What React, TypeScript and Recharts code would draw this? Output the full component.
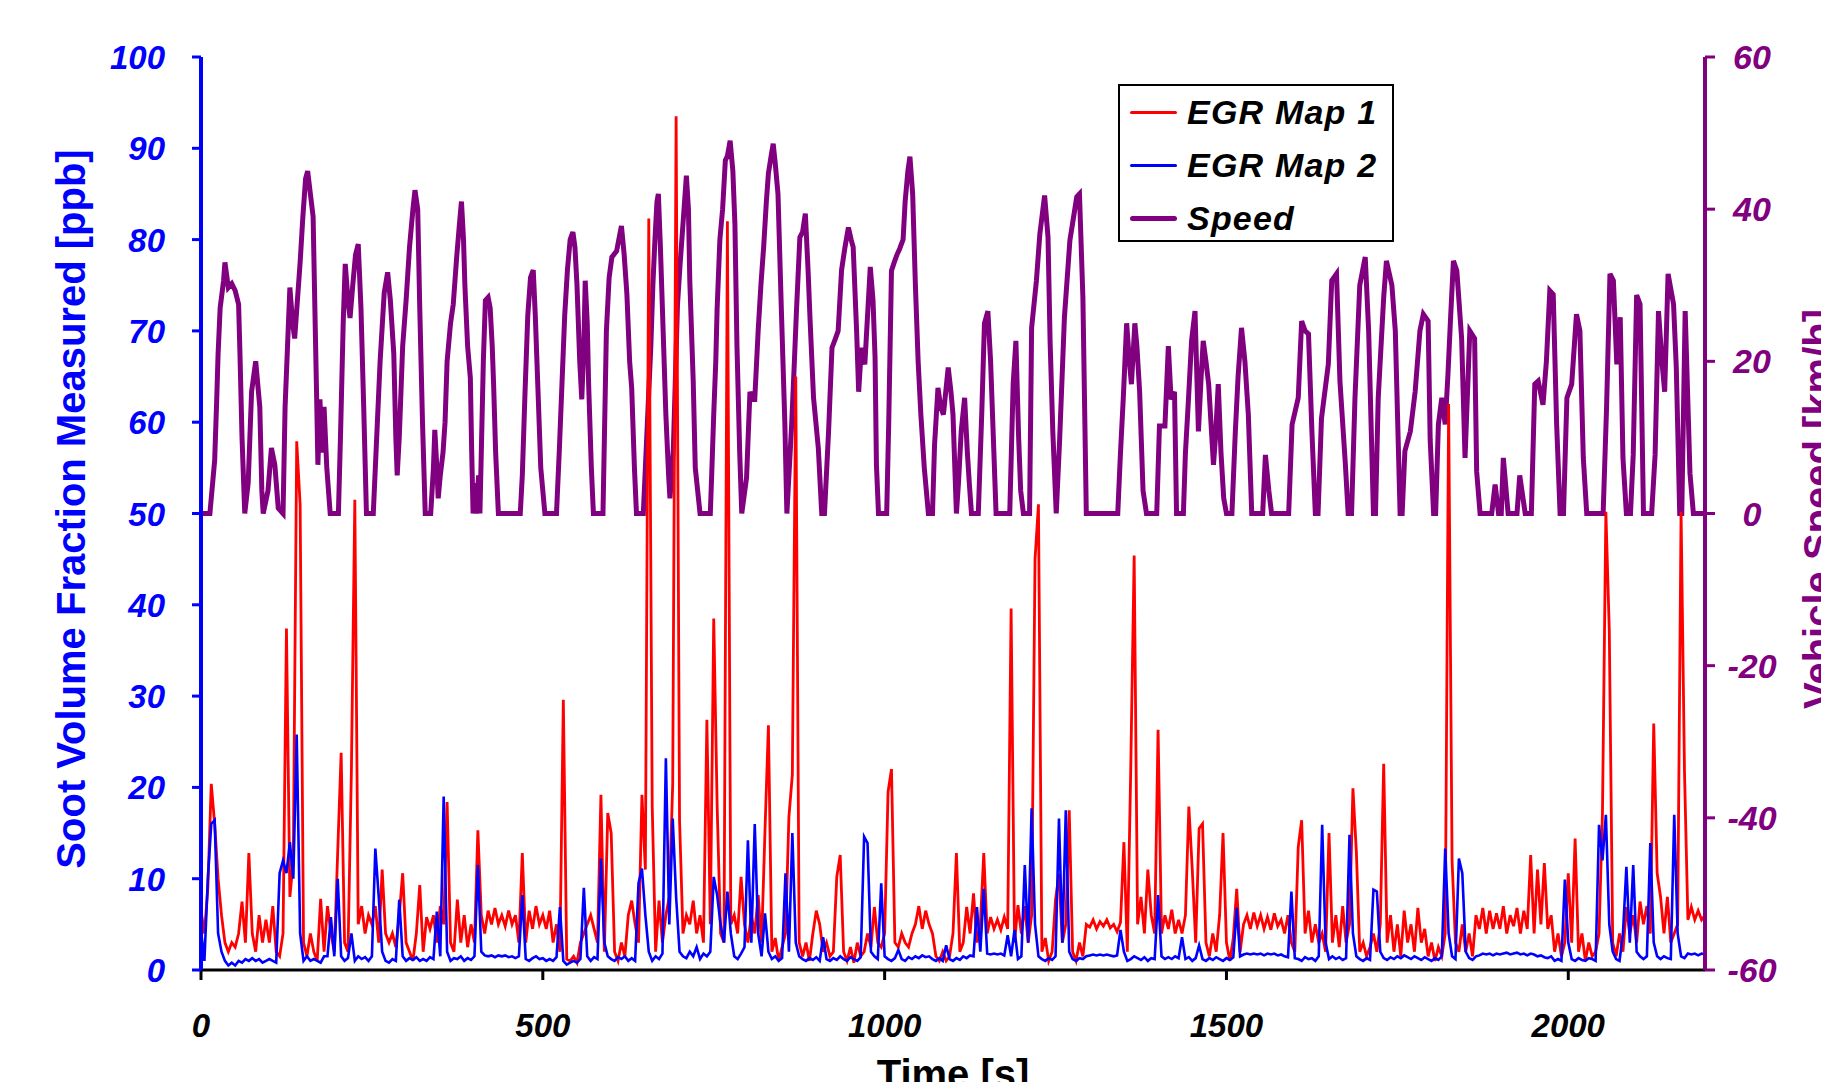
import { LineChart, Line, XAxis, YAxis } from 'recharts'

// time axis [s]
const TIME_TICKS = [0, 500, 1000, 1500, 2000]
const SOOT_TICKS = [0, 10, 20, 30, 40, 50, 60, 70, 80, 90, 100]
const SPEED_TICKS = [-60, -40, -20, 0, 20, 40, 60]

// soot readings sampled every 5 s, from t = 0 to t = 2200
const SOOT_STEP = 5

const sootMap1 = [
  6.5, 4, 9, 20.4, 16, 10, 6, 3, 2, 3, 2.5, 4, 7.5, 3, 12.8, 4, 2, 6, 3, 5.5,
  3, 7, 2, 1.5, 4, 37.4, 8, 12, 57.9, 51, 3, 1.5, 4, 2, 1, 7.8, 2, 7, 4, 2,
  13, 23.8, 3, 2, 21.9, 51.5, 5, 7, 4, 6, 5, 7, 3, 11, 4, 3, 4, 2.5, 6, 10.6,
  3, 2, 1, 4, 9.3, 2, 5.8, 4.5, 6, 3, 7, 5, 18.4, 3, 2, 7.7, 3, 6, 2.5, 5,
  3, 15.3, 6, 4, 6.5, 5, 6.8, 5, 6, 4.8, 6.5, 5, 6, 3, 12.8, 3, 6.5, 4.5, 7, 5,
  6, 4.5, 6.5, 3, 5, 2, 29.6, 1.2, 1, 1.5, 0.8, 3, 4, 5, 6, 4.5, 3, 19.2, 2, 17.2,
  15, 2, 1, 3, 1.5, 6, 7.6, 5, 3, 19.2, 11, 82.3, 18, 2, 7.6, 3, 6, 8, 20.4, 93.5,
  16.4, 4, 6, 5, 7.6, 4, 6, 3, 27.4, 5, 38.5, 18, 4, 3, 82, 5, 6, 4, 10.2, 5,
  3, 6, 4, 8.2, 3, 15.3, 26.8, 2, 3.5, 1, 2.5, 4, 16.8, 21.4, 65, 3, 1.5, 3, 1, 4,
  6.5, 5, 2, 3, 1.5, 2, 10.2, 12.6, 2, 1, 2.5, 0.8, 3, 1.5, 2, 4, 2.5, 6.9, 3, 2.5,
  4, 19.5, 22, 3, 2.5, 4, 3, 2.5, 4, 5, 7, 4.5, 6.5, 5, 4, 1.5, 1, 2, 1, 1.5,
  4, 12.8, 2, 3, 6.9, 4, 8.4, 3, 5, 12.8, 4, 5.8, 4.5, 5.5, 4.4, 5.8, 4.5, 39.6, 3, 7.1,
  4, 7, 3, 6, 45, 51, 2, 3.5, 1, 2, 7.7, 10.5, 3, 5, 17.5, 2, 1, 3, 1.5, 5,
  4.7, 5.5, 4.5, 5.3, 4.8, 5.5, 4.6, 5, 4.2, 5.2, 14, 2, 22, 45.4, 5, 8, 4, 11, 6, 4,
  26.3, 4, 6, 4.5, 6.6, 4, 5.5, 4, 6, 17.9, 11, 3, 15.5, 16, 3, 1.5, 4, 2, 6, 15,
  3, 1, 3.5, 8.9, 2, 5, 6, 4.5, 6.3, 4.8, 6, 4.5, 5.8, 4.4, 6.2, 4.8, 5.5, 4, 6, 3,
  2, 13.5, 16.4, 4, 6.5, 3, 5, 3, 4, 2, 15, 3, 6, 2.5, 7, 3, 5, 19.9, 13, 2,
  3, 1.5, 2.5, 4, 2, 5, 22.6, 3, 6, 2, 5, 1.5, 6.5, 3, 5, 2, 6.8, 3, 4.5, 1.5,
  3, 1, 2.5, 1.5, 4, 62, 12, 3, 2, 5, 2, 4, 1.5, 6, 4.5, 6.8, 4, 6.5, 4.5, 6.2,
  4.5, 7, 4, 6, 4.8, 6.8, 4, 6.5, 4.5, 12.6, 4, 11, 5, 11.7, 4.5, 6, 2, 4, 1.5, 3,
  10.6, 3, 14.4, 2, 4, 1, 3, 1.5, 2, 4, 17.2, 50.2, 37.2, 3, 1.5, 4, 2, 6.9, 4, 6,
  3, 7.5, 5, 7, 4, 27, 10.6, 8, 4, 8, 3, 4, 5, 50.2, 21.7, 5.5, 6.9, 5.5, 6.5, 5.5,
  6,
]

const sootMap2 = [
  4.4, 1, 10, 16, 16.4, 4, 2, 1, 0.5, 0.8, 0.5, 1, 0.8, 1.2, 1, 1.3, 1, 1.2, 0.8, 1,
  1.2, 1, 0.8, 10.6, 12, 10.6, 14, 10, 25.8, 4, 1, 1.5, 1, 1.2, 1, 0.8, 1.5, 1.5, 5.8, 1.5,
  10, 1.5, 1, 1.3, 4, 1, 1.5, 1.2, 1.4, 1, 1.5, 13.3, 8, 2, 1, 0.8, 1.2, 1, 7.7, 1.5,
  1, 1.3, 1.1, 1.4, 1, 1.2, 1, 1.4, 1.2, 6.4, 1.5, 19, 2, 1, 1.3, 1.2, 1.5, 1, 1.3, 1.1,
  1.5, 11.5, 2, 1.6, 1.5, 1.6, 1.4, 1.6, 1.5, 1.6, 1.4, 1.5, 1.3, 1.5, 8.2, 1.2, 1, 1.3, 1.5, 1.2,
  1.3, 1, 1.2, 1, 1.4, 6.9, 1, 0.6, 0.8, 1, 0.8, 1.2, 9, 1.5, 1, 1.4, 1.2, 12.2, 3, 1.5,
  1.2, 1, 1.4, 1.2, 1.5, 1, 1.3, 1, 9.5, 11.1, 6, 2, 1, 1.5, 1.2, 1.8, 23.2, 5, 16.6, 8,
  2, 1.5, 1.3, 2, 1.5, 2.5, 1.2, 1.8, 1.5, 2, 10.2, 8.2, 5, 3, 8.6, 4, 1.5, 1.2, 1.8, 2.5,
  14.2, 3, 16, 4, 1.5, 6.2, 2, 1.2, 1.5, 1, 1.3, 10.6, 2, 15, 3, 1.5, 1.2, 1, 1.3, 1.1,
  1.4, 1, 3.6, 1.2, 1, 1.3, 1.1, 1.5, 1.2, 1, 1.4, 1.2, 1, 1.4, 14.6, 13.9, 2, 1.5, 1.2, 9.5,
  1.5, 1.2, 1, 1.3, 2.2, 1.2, 1, 1.4, 1.2, 1.5, 1.3, 1.6, 1.4, 1.5, 1.2, 1, 1.3, 1, 2.7, 1.2,
  1, 1.3, 1.1, 1.5, 1.3, 1.6, 1.5, 6.9, 2, 8.9, 1.8, 1.7, 1.8, 1.7, 1.8, 1.6, 3.8, 1.5, 4.4, 1.2,
  1.5, 11.5, 3, 17.7, 5, 1.5, 1.2, 1, 1.3, 1.1, 1.5, 16.6, 3, 17.5, 2, 1.2, 1, 1.3, 1.2, 1.5,
  1.6, 1.7, 1.6, 1.7, 1.6, 1.7, 1.6, 1.5, 1.6, 4.4, 2, 1, 1.2, 1.5, 1.3, 1.1, 1.4, 1, 1.3, 1.2,
  8.2, 1.5, 1.2, 1.4, 1.2, 1.5, 1.3, 3.6, 1.2, 1.4, 1, 1.3, 2.7, 1.2, 1, 1.3, 1.1, 1.4, 1.2, 1,
  1.3, 1.1, 1.4, 6.8, 1.5, 1.7, 1.8, 1.7, 1.8, 1.7, 1.8, 1.6, 1.8, 1.7, 1.8, 1.6, 1.7, 1.5, 1.4, 8.6,
  1.3, 1.2, 1, 1.4, 1.2, 1.3, 1, 1.5, 15.9, 3, 1.2, 1.5, 1.2, 1.4, 1.1, 1.3, 14.8, 4, 1.5, 1.2,
  1, 1.3, 1.1, 8.8, 8.6, 2, 1.3, 1.1, 1.4, 1.2, 1.5, 1.3, 1.6, 1.4, 1.2, 1.5, 1.3, 1.1, 1.4, 1.2,
  1, 1.3, 1.1, 1.5, 13.3, 4, 1.5, 1.2, 12.2, 10.6, 2, 1.3, 1.1, 1.5, 1.6, 1.8, 1.7, 1.8, 1.6, 1.8,
  1.7, 1.8, 1.9, 1.7, 1.8, 1.9, 1.7, 1.8, 1.6, 1.8, 1.7, 1.5, 1.6, 1.4, 1.3, 1.5, 1, 1.2, 1, 9.9,
  3, 1.2, 1, 1.3, 1.1, 1, 1.3, 1.2, 1, 15.9, 12, 17, 5, 2, 1.2, 1, 4, 11.3, 3, 11.5,
  2, 1.5, 1.2, 1.5, 13.9, 3, 1.5, 1.2, 1.5, 1.3, 1.2, 17, 4, 1.5, 1.3, 1.8, 1.7, 1.8, 1.6, 1.8,
  1.7,
]

// vehicle speed [km/h] as [time s, speed] pairs
const speedTrace: [number, number][] = [
  [0, 0], [13, 0], [20, 7], [23, 15], [25, 21], [28, 27], [33, 30.6], [35, 33], [40, 29.7], [45, 30.2],
  [50, 29.3], [55, 27.5], [57, 21], [60, 10], [64, 0], [69, 4], [74, 16], [80, 20], [86, 14], [89, 3],
  [91, 0], [98, 3], [103, 8.6], [108, 6.4], [113, 0.7], [120, 0], [123, 14], [130, 29.7], [134, 25], [137, 23],
  [141, 28], [145, 33], [149, 39], [153, 44], [156, 45], [160, 42], [164, 39], [167, 25], [169, 16], [171, 6.4],
  [174, 15], [177, 8], [180, 14], [184, 6], [189, 0], [201, 0], [204, 10], [208, 25], [211, 32.8], [215, 28],
  [218, 25.7], [222, 30], [226, 34], [230, 35.4], [234, 27], [238, 14], [242, 0], [252, 0], [256, 8], [262, 20],
  [268, 29], [273, 31.7], [277, 28], [282, 21], [285, 10], [287, 5], [290, 10], [295, 22], [300, 28], [305, 35],
  [310, 40], [313, 42.5], [317, 40], [320, 27], [324, 12], [328, 0], [336, 0], [340, 6], [342, 11], [345, 6],
  [347, 2], [350, 5], [354, 8], [357, 12], [360, 20], [365, 25], [369, 27.5], [374, 33.7], [378, 38], [381, 41],
  [384, 36], [386, 30], [390, 22], [394, 17.8], [396, 8], [398, 0], [401, 4], [403, 0], [406, 5], [408, 0],
  [410, 8], [413, 20], [416, 28], [420, 28.4], [423, 27], [426, 22], [428, 17], [431, 8], [435, 0], [467, 0],
  [470, 5], [474, 16], [478, 26], [482, 31], [486, 32], [489, 26], [493, 16], [497, 6], [503, 0], [520, 0],
  [524, 8], [528, 17], [532, 26], [536, 32], [540, 36], [544, 37], [547, 35], [550, 30], [554, 20], [557, 15],
  [560, 22], [562, 30.6], [565, 25], [567, 17], [571, 6], [574, 0], [588, 0], [593, 24], [597, 31], [601, 33.7],
  [608, 34.5], [615, 37.8], [619, 34], [623, 28.8], [627, 20], [630, 16.5], [634, 6], [637, 0], [647, 0], [650, 6],
  [654, 14], [658, 22], [661, 30], [664, 36], [667, 41], [669, 42], [672, 35], [676, 24], [680, 13], [684, 5],
  [686, 2], [691, 8.6], [694, 18], [697, 27.5], [701, 33], [705, 38], [710, 44.4], [713, 40], [715, 30.6], [720, 17.4],
  [723, 6], [730, 0], [745, 0], [747, 5], [750, 13], [753, 20], [755, 27], [759, 36], [763, 40], [767, 46.4],
  [770, 47], [774, 49], [778, 45], [781, 38], [784, 22], [788, 8], [791, 0], [798, 4.7], [803, 16], [806, 15],
  [810, 15], [815, 24], [819, 30], [823, 35], [827, 41], [830, 44.7], [834, 47], [837, 48.6], [840, 46], [844, 42],
  [849, 26.6], [854, 12], [857, 0], [864, 11.7], [868, 20], [871, 26.6], [876, 36.3], [880, 37], [884, 39.4], [888, 32],
  [891, 25.3], [896, 15.2], [903, 8.6], [908, 0], [912, 0], [918, 10.8], [923, 21.8], [928, 23], [932, 24], [937, 32],
  [942, 35], [947, 37.6], [951, 36], [954, 35], [959, 24], [962, 16], [966, 21.8], [971, 19.6], [975, 26], [979, 32.4],
  [983, 28], [986, 20.5], [988, 6.4], [991, 0], [1003, 0], [1006, 12], [1010, 31.9], [1014, 33], [1018, 34], [1022, 34.8],
  [1027, 36], [1030, 41], [1034, 45], [1037, 46.9], [1041, 42], [1045, 30], [1049, 20], [1053, 13], [1058, 6], [1064, 0],
  [1070, 0], [1073, 9], [1078, 16.5], [1082, 14], [1086, 13], [1093, 19.2], [1097, 16], [1100, 13], [1105, 0], [1108, 4],
  [1112, 10.8], [1117, 15.2], [1121, 8], [1124, 3.8], [1127, 0], [1137, 0], [1142, 13], [1146, 25], [1151, 26.6], [1155, 20],
  [1159, 10], [1163, 0], [1183, 0], [1188, 17], [1192, 22.7], [1196, 10], [1199, 3], [1203, 0], [1212, 0], [1215, 24.4],
  [1222, 30.6], [1227, 36.7], [1234, 41.8], [1239, 36.3], [1242, 22.7], [1246, 10.8], [1251, 0], [1256, 9.7], [1263, 25.8], [1271, 35.9],
  [1281, 41.6], [1285, 42], [1290, 28.4], [1295, 0], [1341, 0], [1345, 8], [1349, 15], [1354, 25], [1358, 20], [1361, 17],
  [1366, 25], [1369, 22], [1373, 16], [1378, 3], [1383, 0], [1398, 0], [1402, 11.5], [1410, 11.5], [1415, 22], [1419, 15],
  [1424, 16], [1427, 0], [1437, 0], [1440, 8], [1444, 14.3], [1449, 22.7], [1454, 26.6], [1459, 10.8], [1463, 18], [1466, 22.7],
  [1470, 20], [1474, 17], [1481, 6.4], [1484, 10], [1488, 17], [1492, 8], [1496, 2], [1500, 0], [1508, 0], [1513, 10.8],
  [1517, 18], [1522, 24.4], [1527, 20], [1532, 13], [1537, 0], [1553, 0], [1557, 7.7], [1562, 3], [1566, 0], [1591, 0],
  [1596, 11.7], [1605, 15.2], [1610, 25.3], [1615, 24], [1620, 23.6], [1625, 10.8], [1630, 0], [1634, 0], [1639, 12.5], [1649, 19.6],
  [1654, 30.6], [1661, 31.5], [1666, 17.4], [1674, 6.4], [1678, 0], [1683, 0], [1688, 15.2], [1695, 30], [1703, 33.7], [1708, 24],
  [1715, 0], [1718, 0], [1722, 15.2], [1730, 28.4], [1734, 33.2], [1742, 30], [1747, 24], [1754, 0], [1757, 0], [1761, 8.2],
  [1769, 10.8], [1776, 16], [1783, 24], [1788, 26.2], [1795, 25.3], [1798, 9.7], [1803, 0], [1806, 0], [1810, 11.7], [1815, 15.2],
  [1820, 11.7], [1824, 18.3], [1828, 26], [1832, 33.2], [1837, 31.9], [1844, 23], [1849, 7.3], [1856, 24], [1863, 23], [1866, 5.5],
  [1871, 0], [1888, 0], [1893, 3.8], [1898, 0], [1902, 0], [1905, 7.3], [1912, 0], [1925, 0], [1929, 5], [1937, 0],
  [1946, 0], [1951, 17], [1956, 17.4], [1963, 14.3], [1968, 20], [1973, 29.3], [1978, 28.8], [1983, 11.7], [1988, 0], [1993, 0],
  [1998, 15.2], [2005, 17], [2012, 26.2], [2017, 24], [2022, 7.3], [2027, 0], [2051, 0], [2056, 13.9], [2061, 31.5], [2066, 30.6],
  [2071, 19.6], [2076, 25.8], [2080, 7.3], [2085, 0], [2091, 0], [2095, 7.7], [2100, 28.7], [2105, 27.5], [2110, 0], [2122, 0],
  [2127, 7.7], [2132, 26.6], [2137, 20], [2141, 16], [2146, 31.5], [2154, 27.5], [2158, 19.2], [2163, 0], [2166, 0], [2171, 26.6],
  [2178, 5.3], [2183, 0], [2200, 0],
]

const LEGEND = [
  { name: 'EGR Map 1', color: '#FF0000', width: 3 },
  { name: 'EGR Map 2', color: '#0000FF', width: 3 },
  { name: 'Speed', color: '#800080', width: 5 },
]

const FONT = '"Liberation Sans", Arial, sans-serif'
const tickFont = { fontFamily: FONT, fontWeight: 700, fontStyle: 'italic', fontSize: 33 } as const
const titleFont = { fontFamily: FONT, fontWeight: 700, fontSize: 40 } as const

function buildRows() {
  const rows = new Map<number, any>()
  const row = (t: number) => {
    if (!rows.has(t)) rows.set(t, { t })
    return rows.get(t)
  }
  sootMap1.forEach((v, i) => { row(i * SOOT_STEP).map1 = v })
  sootMap2.forEach((v, i) => { row(i * SOOT_STEP).map2 = v })
  speedTrace.forEach(([t, v]) => { row(t).speed = v })
  return [...rows.values()].sort((a, b) => a.t - b.t)
}

const rows = buildRows()

function SootTick({ x, y, payload }: any) {
  return (
    <text x={x} y={y} dy={12} textAnchor="end" fill="#0000FF" style={tickFont}>
      {payload.value}
    </text>
  )
}

function SpeedTick({ x, y, payload }: any) {
  return (
    <text x={x + 35} y={y} dy={12} textAnchor="middle" fill="#800080" style={{ ...tickFont, fontSize: 34 }}>
      {payload.value}
    </text>
  )
}

function TimeTick({ x, y, payload }: any) {
  return (
    <text x={x} y={y} dy={55} textAnchor="middle" fill="#000" style={tickFont}>
      {payload.value}
    </text>
  )
}

function ChartLegend() {
  return (
    <div
      style={{
        position: 'absolute', left: 1118, top: 84, width: 276, height: 158,
        border: '2px solid #000', boxSizing: 'border-box', background: '#fff',
      }}
    >
      {LEGEND.map((item, i) => (
        <div key={item.name} style={{ position: 'absolute', left: 0, top: 6 + i * 53, height: 40, width: 270 }}>
          <div
            style={{
              position: 'absolute', left: 10, top: 20 - item.width / 2, width: 47,
              height: item.width, background: item.color, borderRadius: item.width / 2,
            }}
          />
          <div
            style={{
              position: 'absolute', left: 67, top: 0, lineHeight: '40px', whiteSpace: 'nowrap',
              ...tickFont, fontSize: 34, letterSpacing: 1.2, color: '#000',
            }}
          >
            {item.name}
          </div>
        </div>
      ))}
    </div>
  )
}

export default function App() {
  return (
    <div style={{ position: 'absolute', left: 0, top: 0, width: 1821, height: 1082, background: '#fff', overflow: 'hidden' }}>
      <LineChart width={1821} height={1082} data={rows} margin={{ top: 57, right: 0, bottom: 0, left: 0 }}>
        <XAxis
          dataKey="t"
          type="number"
          domain={[0, 2200]}
          ticks={TIME_TICKS}
          interval={0}
          height={112}
          tickSize={10}
          axisLine={{ stroke: '#000', strokeWidth: 3 }}
          tickLine={{ stroke: '#000', strokeWidth: 3 }}
          tick={<TimeTick />}
        />
        <YAxis
          yAxisId="soot"
          orientation="left"
          width={201}
          domain={[0, 100]}
          ticks={SOOT_TICKS}
          interval={0}
          tickSize={9}
          tickMargin={27}
          axisLine={{ stroke: '#0000FF', strokeWidth: 4 }}
          tickLine={{ stroke: '#0000FF', strokeWidth: 3 }}
          tick={<SootTick />}
        />
        <YAxis
          yAxisId="speed"
          orientation="right"
          width={116}
          domain={[-60, 60]}
          ticks={SPEED_TICKS}
          interval={0}
          tickSize={10}
          axisLine={{ stroke: '#800080', strokeWidth: 4 }}
          tickLine={{ stroke: '#800080', strokeWidth: 3 }}
          tick={<SpeedTick />}
        />
        <Line yAxisId="speed" dataKey="speed" type="linear" stroke="#800080" strokeWidth={5} dot={false} connectNulls isAnimationActive={false} />
        <Line yAxisId="soot" dataKey="map1" type="linear" stroke="#FF0000" strokeWidth={2.8} dot={false} connectNulls isAnimationActive={false} />
        <Line yAxisId="soot" dataKey="map2" type="linear" stroke="#0000FF" strokeWidth={2.6} dot={false} connectNulls isAnimationActive={false} />
      </LineChart>
      <svg width={1821} height={1082} style={{ position: 'absolute', left: 0, top: 0, pointerEvents: 'none' }}>
        <text x={85} y={509} transform="rotate(-90 85 509)" textAnchor="middle" fill="#0000FF" style={titleFont}>
          Soot Volume Fraction Measured [ppb]
        </text>
        <text x={1832} y={509} transform="rotate(-90 1832 509)" textAnchor="middle" fill="#800080" style={titleFont}>
          Vehicle Speed [km/h]
        </text>
        <text x={953} y={1088} textAnchor="middle" fill="#000" style={titleFont}>
          Time [s]
        </text>
      </svg>
      <ChartLegend />
    </div>
  )
}
